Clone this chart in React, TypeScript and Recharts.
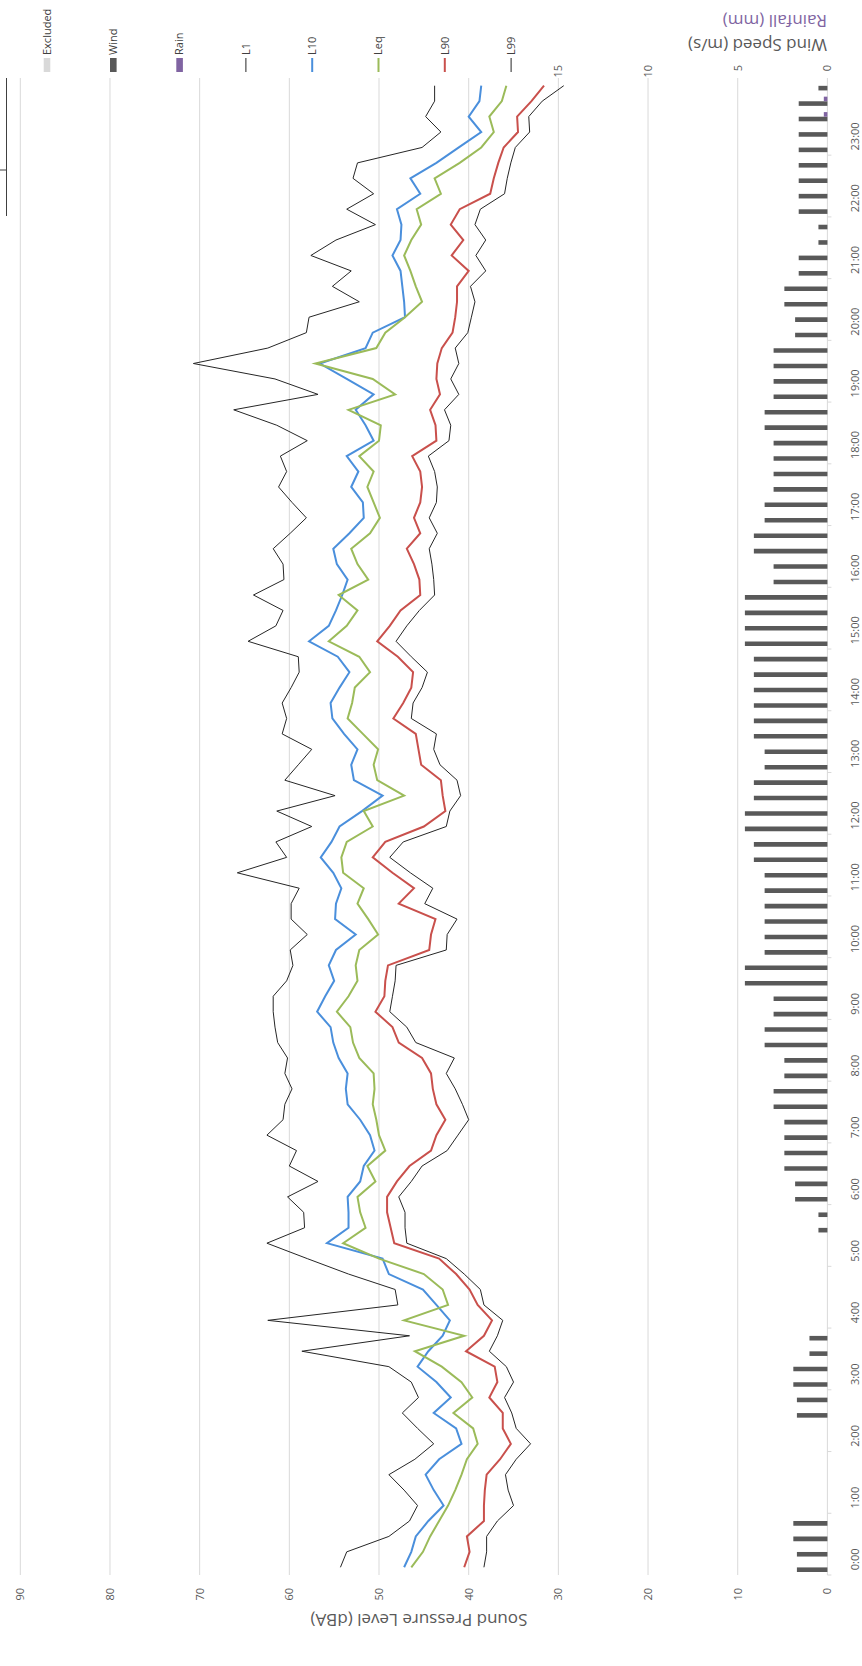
import React from "react";
import { ComposedChart, Bar, Line, XAxis, YAxis, CartesianGrid } from "recharts";

// The chart is drawn landscape (1666 x 862) and turned a quarter turn
// anticlockwise so it fills the 862 x 1666 portrait page.
const W = 1666;
const H = 862;
const FONT = '"Open Sans", "Noto Sans", sans-serif';
const GREY_TEXT = "#595959";
const PLOT_LEFT = 91;
const PLOT_RIGHT = 1588;
const PLOT_BOTTOM = 827.4;

// 15-minute slots from 0:00 to 24:00
const times = Array.from(
  { length: 97 },
  (_, i) => `${Math.floor(i / 4)}:${String((i % 4) * 15).padStart(2, "0")}`
);
const hourTicks = times.filter((_, i) => i % 4 === 0 && i < 96);
const BAND = (PLOT_RIGHT - PLOT_LEFT) / times.length;

const dbTicks = [0, 10, 20, 30, 40, 50, 60, 70, 80, 90];
const windTicks = [0, 5, 10, 15];

// Sound pressure levels (dBA)
const l1 = [
  54.3, 53.6, 48.9, 46.6, 45.7, 47.2, 48.9, 46.0, 43.9, 45.7, 47.4, 45.6, 46.4, 48.9, 58.6, 46.6,
  62.4, 47.9, 48.2, 53.4, 58.0, 62.5, 58.3, 58.4, 60.2, 56.8, 60.0, 59.2, 62.5, 60.7, 60.5, 59.7,
  60.5, 60.2, 61.3, 61.6, 61.8, 61.8, 60.3, 59.6, 59.9, 58.0, 59.8, 59.8, 58.9, 65.8, 60.3, 61.5,
  57.5, 61.4, 54.9, 60.5, 59.0, 57.5, 60.8, 60.3, 60.8, 59.8, 58.9, 59.0, 64.6, 61.5, 60.7, 64.0,
  60.6, 60.7, 61.8, 59.9, 58.1, 59.7, 61.2, 60.3, 61.0, 58.0, 61.4, 66.2, 56.8, 61.6, 70.7, 62.4,
  58.1, 57.8, 52.2, 55.2, 53.1, 57.6, 54.8, 50.4, 53.6, 50.6, 52.9, 52.4, 45.2, 43.1, 44.8, 43.8,
  43.8,
];
const l10 = [
  47.2, 46.4, 45.9, 44.5, 42.8, 43.9, 44.8, 43.3, 40.8, 41.4, 43.9, 42.0, 43.6, 45.7, 44.5, 42.9,
  42.1, 43.6, 45.1, 48.9, 49.6, 55.8, 53.4, 53.4, 53.5, 52.1, 51.7, 50.5, 51.0, 52.1, 53.5, 53.7,
  53.5, 54.5, 55.1, 55.4, 56.9, 56.0, 55.0, 55.6, 54.8, 52.6, 54.9, 54.8, 54.2, 55.1, 56.5, 55.3,
  54.4, 51.9, 49.6, 52.8, 53.1, 52.4, 53.9, 55.2, 55.4, 54.4, 53.3, 54.6, 57.8, 55.6, 54.8, 54.1,
  53.5, 54.7, 55.1, 53.3, 51.7, 51.8, 53.1, 52.3, 53.6, 50.6, 51.5, 52.6, 50.6, 53.6, 56.6, 51.5,
  50.7, 47.1, 47.2, 47.4, 47.6, 48.5, 47.6, 47.5, 48.0, 45.4, 46.5, 43.6, 41.1, 38.6, 40.0, 38.8,
  38.6,
];
const leq = [
  46.4, 45.1, 44.3, 43.3, 42.3, 41.5, 40.8, 40.2, 39.0, 39.5, 41.7, 39.6, 40.8, 43.0, 46.0, 40.5,
  47.2, 42.3, 42.9, 45.0, 50.0, 54.0, 51.5, 52.1, 52.4, 50.4, 51.3, 49.3, 50.0, 50.3, 50.7, 50.5,
  50.6, 52.2, 52.9, 53.2, 54.7, 53.4, 52.4, 52.6, 52.2, 50.1, 51.2, 52.4, 51.7, 54.0, 54.2, 53.6,
  50.7, 51.7, 47.2, 50.2, 50.6, 50.1, 51.8, 53.5, 53.0, 52.7, 51.0, 52.2, 55.6, 53.6, 52.4, 54.5,
  51.2, 52.4, 53.1, 51.0, 49.9, 50.6, 51.3, 50.6, 52.2, 50.0, 49.8, 53.4, 48.2, 50.7, 57.1, 50.3,
  49.3, 47.1, 45.2, 45.9, 46.5, 47.2, 46.4, 45.3, 45.8, 43.1, 43.8, 41.0, 38.6, 37.2, 37.7, 36.3,
  35.8,
];
const l90 = [
  40.5, 39.9, 40.2, 38.3, 38.3, 38.2, 38.0, 36.5, 35.3, 36.2, 36.2, 37.7, 36.8, 37.1, 40.3, 38.3,
  37.4, 39.0, 39.9, 41.4, 43.3, 48.3, 48.7, 49.1, 49.1, 48.0, 46.6, 44.2, 43.6, 42.6, 43.6, 44.0,
  44.2, 45.2, 47.8, 48.5, 50.4, 49.4, 49.3, 49.0, 44.4, 44.2, 43.7, 47.8, 46.1, 48.5, 50.7, 49.3,
  45.0, 42.6, 42.9, 43.1, 45.3, 45.6, 45.9, 48.4, 47.3, 46.4, 46.2, 47.9, 50.2, 48.8, 47.6, 45.4,
  45.5, 46.1, 46.9, 45.4, 46.1, 45.4, 45.2, 45.4, 46.3, 43.6, 43.7, 44.3, 43.2, 43.6, 43.5, 43.0,
  41.8, 41.5, 41.3, 41.3, 40.0, 41.9, 40.6, 42.0, 41.0, 37.6, 37.2, 36.7, 36.1, 34.5, 34.6, 33.0,
  31.6,
];
const l99 = [
  38.3, 38.0, 38.0, 36.8, 35.0, 35.6, 35.9, 34.7, 33.1, 34.7, 35.2, 36.0, 35.0, 35.8, 37.7, 36.8,
  36.2, 38.3, 38.7, 40.5, 42.5, 46.9, 47.1, 47.1, 47.8, 46.4, 45.2, 42.4, 41.2, 40.0, 40.7, 41.5,
  42.5, 41.6, 45.9, 46.9, 48.8, 48.5, 48.2, 48.1, 42.5, 42.4, 41.3, 44.9, 44.0, 46.5, 48.8, 47.3,
  42.5, 42.1, 40.9, 41.3, 43.2, 43.9, 43.6, 46.4, 46.2, 45.2, 44.6, 46.4, 48.1, 46.9, 45.5, 43.8,
  43.9, 44.1, 44.4, 43.5, 44.4, 43.6, 43.5, 43.8, 44.5, 42.2, 42.0, 42.7, 41.1, 42.0, 41.1, 41.5,
  40.1, 39.7, 39.3, 39.8, 38.1, 39.2, 38.1, 39.3, 38.7, 36.0, 35.7, 35.3, 34.8, 33.2, 33.3, 31.8,
  29.4,
];

// Wind speed (m/s), gaps where the logger had no wind reading
const wind = [
  1.7, 1.7, 1.9, 1.9, null, null, null, null, null, null, 1.7, 1.7, 1.9, 1.9, 1.0, 1.0,
  null, null, null, null, null, null, 0.5, 0.5, 1.8, 1.8, 2.4, 2.4, 2.4, 2.4, 3.0, 3.0,
  2.4, 2.4, 3.5, 3.5, 3.0, 3.0, 4.6, 4.6, 3.5, 3.5, 3.5, 3.5, 3.5, 3.5, 4.1, 4.1,
  4.6, 4.6, 4.1, 4.1, 3.5, 3.5, 4.1, 4.1, 4.1, 4.1, 4.1, 4.1, 4.6, 4.6, 4.6, 4.6,
  3.0, 3.0, 4.1, 4.1, 3.5, 3.5, 3.0, 3.0, 3.0, 3.0, 3.5, 3.5, 3.0, 3.0, 3.0, 3.0,
  1.8, 1.8, 2.4, 2.4, 1.6, 1.6, 0.5, 0.5, 1.6, 1.6, 1.6, 1.6, 1.6, 1.6, 1.6, 1.6,
  0.5,
];

// Rainfall (mm)
const rainTimes = ["23:30", "23:45"];
const rainMm = [0.2, 0.2];

const data = times.map((t, i) => {
  const r = rainTimes.indexOf(t);
  return {
    t,
    l1: l1[i],
    l10: l10[i],
    leq: leq[i],
    l90: l90[i],
    l99: l99[i],
    wind: wind[i],
    rain: r >= 0 ? rainMm[r] : null,
  };
});

const legendItems = [
  { name: "Excluded", kind: "box", color: "#d9d9d9" },
  { name: "Wind", kind: "box", color: "#595959" },
  { name: "Rain", kind: "box", color: "#8064a2" },
  { name: "L1", kind: "line", color: "#262626", width: 1 },
  { name: "L10", kind: "line", color: "#4a8fdc", width: 2 },
  { name: "Leq", kind: "line", color: "#9bbb59", width: 2 },
  { name: "L90", kind: "line", color: "#c9504c", width: 2 },
  { name: "L99", kind: "line", color: "#262626", width: 1 },
];

// hour label plus the small tick mark on the band edge before it
const TimeTick = ({ x, payload }: any) => (
  <g>
    <line
      x1={x - BAND / 2}
      x2={x - BAND / 2}
      y1={PLOT_BOTTOM}
      y2={PLOT_BOTTOM + 4}
      stroke="#d9d9d9"
    />
    <text x={x - 3} y={859} textAnchor="start" fontSize={11} fill={GREY_TEXT}>
      {payload.value}
    </text>
  </g>
);

const DbTick = ({ y, payload }: any) => (
  <text x={78} y={y} dy="0.35em" textAnchor="end" fontSize={11} fill={GREY_TEXT}>
    {payload.value}
  </text>
);

const WindTick = ({ y, payload }: any) => (
  <text x={1601} y={y} dy="0.35em" textAnchor="end" fontSize={11} fill={GREY_TEXT}>
    {payload.value}
  </text>
);

function Overlay() {
  return (
    <svg
      width={W}
      height={H}
      style={{ position: "absolute", left: 0, top: 0, pointerEvents: "none" }}
    >
      {/* left axis title */}
      <text
        x={46}
        y={419}
        dy="0.35em"
        textAnchor="middle"
        fontSize={17}
        fill={GREY_TEXT}
        transform="rotate(-90 46 419)"
      >
        Sound Pressure Level (dBA)
      </text>

      {/* right axis titles */}
      <text
        x={1621}
        y={827}
        dy="0.35em"
        textAnchor="start"
        fontSize={17}
        fill={GREY_TEXT}
        transform="rotate(-90 1621 827)"
      >
        Wind Speed (m/s)
      </text>
      <text
        x={1645}
        y={827}
        dy="0.35em"
        textAnchor="start"
        fontSize={17}
        fill="#8064a2"
        transform="rotate(-90 1645 827)"
      >
        Rainfall (mm)
      </text>

      {/* legend */}
      {legendItems.map((item, i) => {
        const cy = 47 + i * 66.3;
        return (
          <g key={item.name}>
            {item.kind === "box" ? (
              <rect x={1594} y={cy - 3.3} width={14} height={6.6} fill={item.color} />
            ) : (
              <line
                x1={1594}
                x2={1608}
                y1={cy}
                y2={cy}
                stroke={item.color}
                strokeWidth={item.width}
              />
            )}
            <text x={1611} y={cy} dy="0.35em" fontSize={11} fill="#404040">
              {item.name}
            </text>
          </g>
        );
      })}

      {/* clipped rule at the top edge */}
      <line x1={1450} x2={1588} y1={6.5} y2={6.5} stroke="#404040" strokeWidth={1} />
      <line x1={1496} x2={1496} y1={0} y2={6.5} stroke="#404040" strokeWidth={1} />
    </svg>
  );
}

export default function App() {
  return (
    <div
      style={{
        position: "absolute",
        left: 0,
        top: 0,
        width: H,
        height: W,
        overflow: "hidden",
        background: "#fff",
        fontFamily: FONT,
      }}
    >
      <div
        style={{
          position: "absolute",
          left: 0,
          top: 0,
          width: W,
          height: H,
          transformOrigin: "0 0",
          transform: `translateY(${W}px) rotate(-90deg)`,
        }}
      >
        <ComposedChart
          width={W}
          height={H}
          data={data}
          margin={{ top: 20.3, right: 38, bottom: 4.6, left: 31 }}
          barGap={0}
        >
          <CartesianGrid yAxisId="left" vertical={false} stroke="#d9d9d9" />
          <XAxis
            dataKey="t"
            ticks={hourTicks}
            interval={0}
            height={30}
            axisLine={false}
            tickLine={false}
            tick={<TimeTick />}
          />
          <YAxis
            yAxisId="left"
            type="number"
            domain={[0, 90]}
            ticks={dbTicks}
            width={60}
            axisLine={false}
            tickLine={false}
            tick={<DbTick />}
          />
          <YAxis
            yAxisId="right"
            orientation="right"
            type="number"
            domain={[0, 45]}
            ticks={windTicks}
            width={40}
            axisLine={false}
            tickLine={false}
            tick={<WindTick />}
          />
          <Bar yAxisId="right" dataKey="wind" fill="#595959" barSize={4.6} isAnimationActive={false} />
          <Bar yAxisId="right" dataKey="rain" fill="#8064a2" barSize={4.6} isAnimationActive={false} />
          <Line yAxisId="left" dataKey="l1" stroke="#262626" strokeWidth={1} dot={false} type="linear" isAnimationActive={false} />
          <Line yAxisId="left" dataKey="l10" stroke="#4a8fdc" strokeWidth={2} dot={false} type="linear" isAnimationActive={false} />
          <Line yAxisId="left" dataKey="leq" stroke="#9bbb59" strokeWidth={2} dot={false} type="linear" isAnimationActive={false} />
          <Line yAxisId="left" dataKey="l90" stroke="#c9504c" strokeWidth={2} dot={false} type="linear" isAnimationActive={false} />
          <Line yAxisId="left" dataKey="l99" stroke="#262626" strokeWidth={1} dot={false} type="linear" isAnimationActive={false} />
        </ComposedChart>
        <Overlay />
      </div>
    </div>
  );
}
